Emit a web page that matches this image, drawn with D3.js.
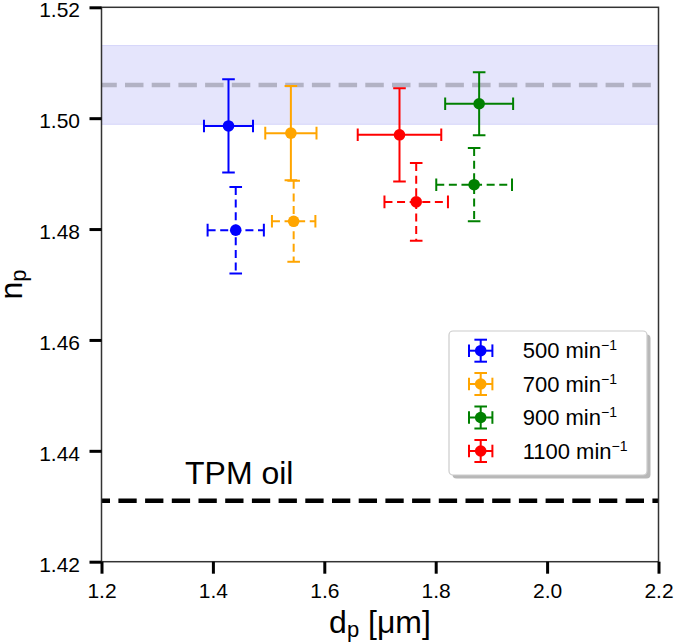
<!DOCTYPE html>
<html>
<head>
<meta charset="utf-8">
<script src="https://cdn.jsdelivr.net/npm/d3@7"></script>
<style>
  html, body { margin: 0; padding: 0; background: #fff; }
  svg { display: block; font-family: "Liberation Sans", Arial, Helvetica, sans-serif; }
</style>
</head>
<body>
<svg id="chart" width="675" height="643"></svg>
<script>
// ---- data ----
const rpm = [500, 700, 900, 1100];
const colors = ["#0000ff", "#ffa500", "#008000", "#ff0000"];

// solid error bars
const dpSolid = [1.428, 1.540, 1.878, 1.735];
const dpErrSolid = [0.044, 0.046, 0.061, 0.075];
const npSolid = [1.4986, 1.4973, 1.5026, 1.4970];
const npErrSolid = [0.0084, 0.0085, 0.0057, 0.0084];

// dashed error bars
const dpDashed = [1.441, 1.545, 1.869, 1.765];
const dpErrDashed = [0.0505, 0.039, 0.068, 0.057];
const npDashed = [1.4798, 1.4814, 1.4880, 1.4849];
const npErrDashed = [0.0078, 0.0073, 0.0066, 0.0070];

// reference lines
const nRef = 1.506;
const nRefErr = 0.0071;
const tpmOil = 1.431;

const xTicks = [1.2, 1.4, 1.6, 1.8, 2.0, 2.2];
const yTicks = [1.42, 1.44, 1.46, 1.48, 1.50, 1.52];

// ---- layout ----
const L = 101.5, R = 658.5, T = 7.3, B = 561.7;
const svg = d3.select("#chart");
const x = d3.scaleLinear().domain([1.2, 2.2]).range([L, R]);
const y = d3.scaleLinear().domain([1.42, 1.52]).range([B, T]);

svg.append("defs").append("clipPath").attr("id", "clip")
  .append("rect").attr("x", L).attr("y", T).attr("width", R - L).attr("height", B - T);

const plot = svg.append("g").attr("clip-path", "url(#clip)");

// reference band
plot.append("rect")
  .attr("x", L).attr("width", R - L)
  .attr("y", y(nRef + nRefErr)).attr("height", y(nRef - nRefErr) - y(nRef + nRefErr))
  .attr("fill", "rgb(229,229,252)")
  .attr("stroke", "rgb(214,214,250)").attr("stroke-width", 1);

// reference dashed line
plot.append("line")
  .attr("x1", L).attr("x2", R).attr("y1", y(nRef)).attr("y2", y(nRef))
  .attr("stroke", "rgb(178,178,196)").attr("stroke-width", 4.5)
  .attr("stroke-dasharray", "18.5,8.2").attr("stroke-dashoffset", 3.2);

// TPM oil line
plot.append("line")
  .attr("x1", L).attr("x2", R).attr("y1", y(tpmOil)).attr("y2", y(tpmOil))
  .attr("stroke", "#000").attr("stroke-width", 4.5)
  .attr("stroke-dasharray", "18.3,8.4").attr("stroke-dashoffset", 9.8);

svg.append("text").attr("x", 185).attr("y", 484.3)
  .attr("font-size", 32).attr("fill", "#000").text("TPM oil");

// error bars
const capHalf = 6.3;
function errbar(g, cx, cy, x0, x1, y0, y1, color, dashed) {
  const dash = dashed ? "8,4.6" : null;
  g.append("line").attr("x1", x0).attr("x2", x1).attr("y1", cy).attr("y2", cy)
    .attr("stroke", color).attr("stroke-width", 2).attr("stroke-dasharray", dash);
  g.append("line").attr("x1", cx).attr("x2", cx).attr("y1", y0).attr("y2", y1)
    .attr("stroke", color).attr("stroke-width", 2).attr("stroke-dasharray", dash);
  [x0, x1].forEach(xx => g.append("line").attr("x1", xx).attr("x2", xx)
    .attr("y1", cy - capHalf).attr("y2", cy + capHalf).attr("stroke", color).attr("stroke-width", 2));
  [y0, y1].forEach(yy => g.append("line").attr("y1", yy).attr("y2", yy)
    .attr("x1", cx - capHalf).attr("x2", cx + capHalf).attr("stroke", color).attr("stroke-width", 2));
  g.append("circle").attr("cx", cx).attr("cy", cy).attr("r", 5.8).attr("fill", color);
}

rpm.forEach((r, i) => {
  const g = plot.append("g");
  errbar(g, x(dpSolid[i]), y(npSolid[i]),
    x(dpSolid[i] - dpErrSolid[i]), x(dpSolid[i] + dpErrSolid[i]),
    y(npSolid[i] + npErrSolid[i]), y(npSolid[i] - npErrSolid[i]), colors[i], false);
});
rpm.forEach((r, i) => {
  const g = plot.append("g");
  errbar(g, x(dpDashed[i]), y(npDashed[i]),
    x(dpDashed[i] - dpErrDashed[i]), x(dpDashed[i] + dpErrDashed[i]),
    y(npDashed[i] + npErrDashed[i]), y(npDashed[i] - npErrDashed[i]), colors[i], true);
});

// spines
svg.append("rect").attr("x", L).attr("y", T).attr("width", R - L).attr("height", B - T)
  .attr("fill", "none").attr("stroke", "#333").attr("stroke-width", 1.5);

// axes
const xAxis = d3.axisBottom(x).tickValues(xTicks).tickFormat(d3.format(".1f"))
  .tickSize(12).tickSizeOuter(0).tickPadding(9);
const gx = svg.append("g").attr("transform", `translate(0,${B})`).call(xAxis);
gx.select(".domain").remove();
gx.selectAll(".tick line").attr("stroke", "#000").attr("stroke-width", 3);
gx.selectAll(".tick text").attr("font-size", 21).attr("fill", "#000")
  .attr("font-family", "Liberation Sans, Arial, sans-serif");

const yAxis = d3.axisLeft(y).tickValues(yTicks).tickFormat(d3.format(".2f"))
  .tickSize(12).tickSizeOuter(0).tickPadding(9.5);
const gy = svg.append("g").attr("transform", `translate(${L},0)`).call(yAxis);
gy.select(".domain").remove();
gy.selectAll(".tick line").attr("stroke", "#000").attr("stroke-width", 3);
gy.selectAll(".tick text").attr("font-size", 21).attr("fill", "#000").attr("dy", "0.45em")
  .attr("font-family", "Liberation Sans, Arial, sans-serif");

// axis labels
const xl = svg.append("text").attr("x", (L + R) / 2).attr("y", 633)
  .attr("text-anchor", "middle").attr("font-size", 32).attr("fill", "#000");
xl.append("tspan").text("d");
xl.append("tspan").attr("font-size", 22).attr("dy", 4).text("p");
xl.append("tspan").attr("dy", -4).text(" [μm]");

const yl = svg.append("text")
  .attr("transform", `translate(22,${(T + B) / 2}) rotate(-90)`)
  .attr("text-anchor", "middle").attr("font-size", 32).attr("fill", "#000");
yl.append("tspan").text("n");
yl.append("tspan").attr("font-size", 22).attr("dy", 4).text("p");

// legend
const lg = svg.append("g");
const lx = 449, ly = 331, lw = 198, lh = 144;
lg.append("rect").attr("x", lx + 3.5).attr("y", ly + 3.5).attr("width", lw).attr("height", lh)
  .attr("rx", 4).attr("fill", "#888").attr("opacity", 0.6);
lg.append("rect").attr("x", lx).attr("y", ly).attr("width", lw).attr("height", lh)
  .attr("rx", 4).attr("fill", "#fff").attr("stroke", "#ccc").attr("stroke-width", 1.2);
const rowY = [350.7, 384.0, 417.5, 451.0];
rpm.forEach((r, i) => {
  const g = lg.append("g");
  const cx = 480.7, cy = rowY[i];
  errbar(g, cx, cy, cx - 11.7, cx + 11.7, cy - 11, cy + 11, colors[i], false);
  const t = g.append("text").attr("x", 522.7).attr("y", cy + 7.5)
    .attr("font-size", 22).attr("fill", "#000");
  t.append("tspan").text(`${r} min`);
  t.append("tspan").attr("font-size", 14).attr("dy", -8).text("−1");
});
</script>
</body>
</html>
